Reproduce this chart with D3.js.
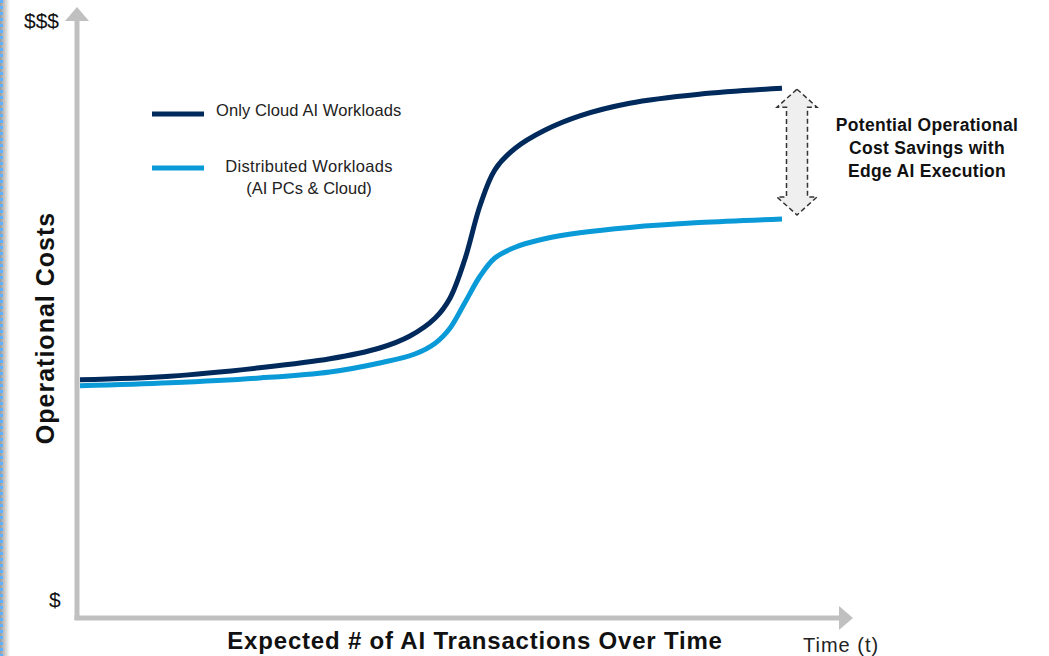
<!DOCTYPE html>
<html>
<head>
<meta charset="utf-8">
<script src="https://cdn.jsdelivr.net/npm/d3@7"></script>
<style>
  html, body { margin: 0; padding: 0; background: #ffffff; }
  svg { display: block; }
</style>
</head>
<body>
<svg id="chart" width="1049" height="656"></svg>
<script>
// ---- Data (time in arbitrary units 0..100, cost index 0..100) ----
const time = [0, 12.8, 25.6, 35.6, 42.7, 47.0, 50.6, 52.7, 54.8, 57.0, 59.1, 62.0, 66.2, 71.2, 78.3, 88.2, 100];
const cloudOnly = [39.7, 40.3, 41.7, 43.2, 45.0, 47.0, 50.0, 53.3, 59.7, 68.8, 74.7, 78.3, 81.3, 83.7, 85.8, 87.3, 88.3];
const timeDist = [0, 12.8, 25.6, 35.6, 42.7, 47.7, 50.6, 52.7, 54.8, 57.0, 59.1, 62.0, 66.2, 71.2, 78.3, 88.2, 100];
const distributed = [38.7, 39.2, 40.0, 41.0, 42.5, 44.0, 45.8, 48.3, 52.5, 57.0, 60.0, 61.8, 63.2, 64.2, 65.1, 65.9, 66.5];
const seriesNames = ["Only Cloud AI Workloads", ["Distributed Workloads", "(AI PCs & Cloud)"]];
const yTickLabels = ["$", "$$$"];
const xAxisTitle = "Expected # of AI Transactions Over Time";
const xAxisEnd = "Time (t)";
const yAxisTitle = "Operational Costs";
const annotation = ["Potential Operational", "Cost Savings with", "Edge AI Execution"];

const colors = { cloud: "#002a5c", dist: "#0a9ad7", axis: "#c0c0c0" };
const font = "'Liberation Sans', Arial, sans-serif";

const svg = d3.select("#chart");

// left decorative border (shadow + dotted blue)
const defs = svg.append("defs");
const grad = defs.append("linearGradient").attr("id", "shadow").attr("x1", "0").attr("x2", "1");
grad.append("stop").attr("offset", "0").attr("stop-color", "#9a9a9a");
grad.append("stop").attr("offset", "1").attr("stop-color", "#ffffff");
svg.append("rect").attr("x", 0).attr("y", 0).attr("width", 10).attr("height", 656).attr("fill", "url(#shadow)");
svg.append("line").attr("x1", 1.5).attr("x2", 1.5).attr("y1", 0).attr("y2", 656)
  .attr("stroke", "#5fb0ff").attr("stroke-width", 3).attr("stroke-dasharray", "3,3");

// scales
const x = d3.scaleLinear().domain([0, 100]).range([80, 782]);
const y = d3.scaleLinear().domain([0, 100]).range([618, 18]);

const ax0 = 77, ay0 = 618;

// axes (arrows)
svg.append("line").attr("x1", ax0).attr("x2", ax0).attr("y1", ay0 + 2).attr("y2", 20)
  .attr("stroke", colors.axis).attr("stroke-width", 5);
svg.append("path").attr("d", `M${ax0 - 12},21 L${ax0},7 L${ax0 + 12},21 Z`).attr("fill", colors.axis);
svg.append("line").attr("x1", ax0 - 2.5).attr("x2", 840).attr("y1", ay0).attr("y2", ay0)
  .attr("stroke", colors.axis).attr("stroke-width", 5);
svg.append("path").attr("d", `M839,${ay0 - 12} L853,${ay0} L839,${ay0 + 12} Z`).attr("fill", colors.axis);

// y labels
svg.append("text").attr("x", 24).attr("y", 28).text(yTickLabels[1])
  .attr("font-family", font).attr("font-size", 21).attr("fill", "#111");
svg.append("text").attr("x", 49).attr("y", 607).text(yTickLabels[0])
  .attr("font-family", font).attr("font-size", 21).attr("fill", "#111");

// axis titles
svg.append("text").attr("transform", "translate(54,328) rotate(-90)").attr("text-anchor", "middle")
  .text(yAxisTitle).attr("font-family", font).attr("font-weight", "bold").attr("font-size", 25)
  .attr("letter-spacing", 1).attr("fill", "#111");
svg.append("text").attr("x", 475).attr("y", 649).attr("text-anchor", "middle")
  .text(xAxisTitle).attr("font-family", font).attr("font-weight", "bold").attr("font-size", 24)
  .attr("letter-spacing", 0.8).attr("fill", "#111");
svg.append("text").attr("x", 803).attr("y", 652).text(xAxisEnd)
  .attr("font-family", font).attr("font-size", 20).attr("letter-spacing", 1).attr("fill", "#222");

// curves
const line = d3.line().x(d => x(d[0])).y(d => y(d[1])).curve(d3.curveCatmullRom.alpha(0.5));
svg.append("path").datum(timeDist.map((t, i) => [t, distributed[i]]))
  .attr("d", line).attr("fill", "none").attr("stroke", colors.dist).attr("stroke-width", 5);
svg.append("path").datum(time.map((t, i) => [t, cloudOnly[i]]))
  .attr("d", line).attr("fill", "none").attr("stroke", colors.cloud).attr("stroke-width", 5);

// legend
svg.append("line").attr("x1", 152).attr("x2", 204).attr("y1", 114).attr("y2", 114)
  .attr("stroke", colors.cloud).attr("stroke-width", 5);
svg.append("text").attr("x", 216).attr("y", 116).text(seriesNames[0])
  .attr("font-family", font).attr("font-size", 16.5).attr("letter-spacing", 0.1).attr("fill", "#222");
svg.append("line").attr("x1", 152).attr("x2", 204).attr("y1", 168).attr("y2", 168)
  .attr("stroke", colors.dist).attr("stroke-width", 5);
svg.append("text").attr("x", 309).attr("y", 172).attr("text-anchor", "middle").text(seriesNames[1][0])
  .attr("font-family", font).attr("font-size", 16.5).attr("letter-spacing", 0.3).attr("fill", "#222");
svg.append("text").attr("x", 309).attr("y", 194).attr("text-anchor", "middle").text(seriesNames[1][1])
  .attr("font-family", font).attr("font-size", 16.5).attr("fill", "#222");

// double arrow showing gap
const cx = x(100) + 15;
const yTop = y(cloudOnly[cloudOnly.length - 1]) + 1;
const yBot = y(distributed[distributed.length - 1]) - 4;
const hw = 20, sw = 10.5, hh = 18;
const arrowPath = `M${cx},${yTop} L${cx + hw},${yTop + hh} L${cx + sw},${yTop + hh} L${cx + sw},${yBot - hh}
  L${cx + hw},${yBot - hh} L${cx},${yBot} L${cx - hw},${yBot - hh} L${cx - sw},${yBot - hh}
  L${cx - sw},${yTop + hh} L${cx - hw},${yTop + hh} Z`;
svg.append("path").attr("d", arrowPath).attr("fill", "#efefef")
  .attr("stroke", "#333").attr("stroke-width", 1.5).attr("stroke-dasharray", "5,3");

// annotation text
annotation.forEach((t, i) => {
  svg.append("text").attr("x", 927).attr("y", 131 + i * 23).attr("text-anchor", "middle").text(t)
    .attr("font-family", font).attr("font-weight", "bold").attr("font-size", 17.5)
    .attr("letter-spacing", 0.3).attr("fill", "#111");
});
</script>
</body>
</html>
